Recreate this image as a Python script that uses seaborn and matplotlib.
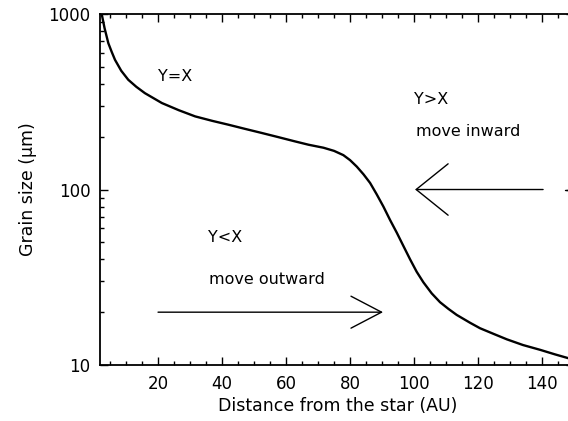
import matplotlib
matplotlib.use('Agg')
import matplotlib.pyplot as plt
import matplotlib.ticker as mticker
import seaborn as sns
import pandas as pd

# Curva Y=X
distancia = [2.4, 3.3, 4.47, 5.5, 6.56, 8.5, 10.7, 13.2, 15.9, 21.2, 26.5, 31.6, 37, 42,
             47, 52.4, 57.5, 62.8, 67, 71.7, 75, 77.9, 80, 82.1, 84.2, 86.25, 88.3, 90.4,
             92.5, 94.6, 96.7, 98.75, 100.8, 102.9, 105.5, 108.1, 110.7, 113.3, 117.5,
             120.6, 125, 129, 134, 139.4, 144, 147.7, 150]
tamano = [1000, 830, 682, 610, 548, 475, 422, 385, 354, 311, 283, 261, 246, 234,
          222, 210, 199, 188, 180, 173, 166, 157, 147, 135, 122, 109, 94, 80,
          67, 56.7, 47.5, 40, 34.0, 29.6, 25.6, 22.8, 20.9, 19.3, 17.4,
          16.2, 15.0, 14.0, 13.0, 12.2, 11.5, 11.0, 10.7]

x_ticks = [20, 40, 60, 80, 100, 120, 140]
y_ticks = [10, 100, 1000]
y_tick_labels = ['10', '100', '1000']

# flechas: (x inicio, x punta, y)
flecha_afuera = (20, 90.3, 20)
flecha_adentro = (140.3, 100.3, 100)

data = pd.DataFrame({'x': distancia, 'y': tamano})

sns.set_style('ticks')
plt.rcParams['font.family'] = ['DejaVu Sans']
plt.rcParams['text.color'] = 'black'
plt.rcParams['axes.labelcolor'] = 'black'

fig = plt.figure(figsize=(5.68, 4.21), dpi=100)
ax = fig.add_axes([0.1768, 0.133, 0.834, 0.8337])

sns.lineplot(data=data, x='x', y='y', color='black', linewidth=1.7, ax=ax, sort=False)

ax.set_yscale('log')
ax.set_xlim(2, 150)
ax.set_ylim(10, 1000)

ax.set_xticks(x_ticks)
ax.xaxis.set_minor_locator(mticker.MultipleLocator(5))
ax.set_yticks(y_ticks)
ax.set_yticklabels(y_tick_labels)
ax.yaxis.set_minor_locator(mticker.LogLocator(base=10, subs=range(2, 10)))
ax.yaxis.set_minor_formatter(mticker.NullFormatter())

ax.tick_params(which='both', direction='in', top=True, right=True, colors='black',
               labelsize=12, width=1)
ax.tick_params(which='major', length=6)
ax.tick_params(which='minor', length=3)
ax.tick_params(axis='x', pad=7)
ax.tick_params(axis='y', pad=7)
for s in ax.spines.values():
    s.set_visible(True)
    s.set_linewidth(1.3)
    s.set_color('black')

ax.set_xlabel('Distance from the star (AU)', fontsize=12.5, labelpad=3)
ax.set_ylabel('Grain size (μm)', fontsize=12.5, labelpad=8)

# textos
ax.text(20, 438, 'Y=X', fontsize=11.5, va='center', ha='left')
ax.text(100, 325, 'Y>X', fontsize=11.5, va='center', ha='left')
ax.text(100.5, 214, 'move inward', fontsize=11.5, va='center', ha='left')
ax.text(35.5, 53, 'Y<X', fontsize=11.5, va='center', ha='left')
ax.text(36, 30.8, 'move outward', fontsize=11.5, va='center', ha='left')

# flechas
x0, x1, yf = flecha_afuera
ax.annotate('', xy=(x1, yf), xytext=(x0, yf),
            arrowprops=dict(arrowstyle='->,head_length=22,head_width=11.5',
                            mutation_scale=1, color='black', lw=1,
                            shrinkA=0, shrinkB=0))
x0, x1, yf = flecha_adentro
ax.annotate('', xy=(x1, yf), xytext=(x0, yf),
            arrowprops=dict(arrowstyle='->,head_length=23,head_width=18.5',
                            mutation_scale=1, color='black', lw=1,
                            shrinkA=0, shrinkB=0))
ax.plot([147, 150], [100, 100], color='black', lw=1)

fig.savefig('out.png', dpi=100)
